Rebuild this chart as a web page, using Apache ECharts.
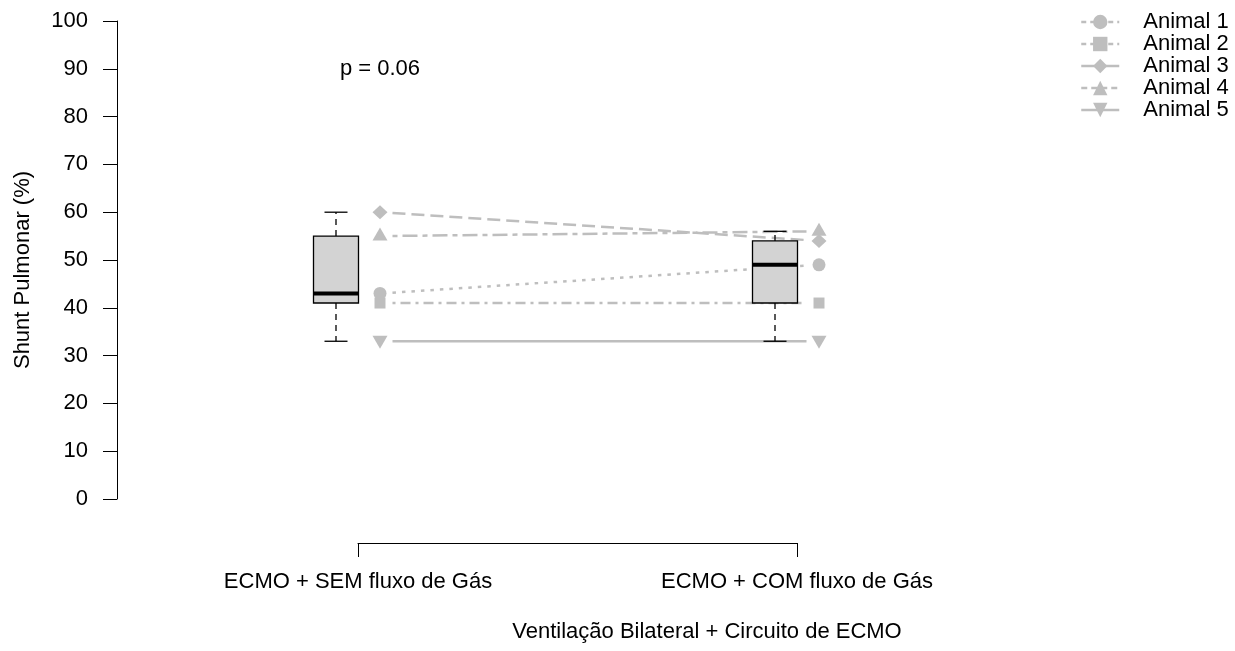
<!DOCTYPE html>
<html>
<head>
<meta charset="utf-8">
<script src="https://cdn.jsdelivr.net/npm/echarts@6/dist/echarts.min.js"></script>
<style>
  html, body { margin: 0; padding: 0; background: #ffffff; }
  #chart { width: 1235px; height: 651px; }
</style>
</head>
<body>
<div id="chart"></div>
<script>
// ---- data ----
const conditions = ['ECMO + SEM fluxo de Gás', 'ECMO + COM fluxo de Gás'];
const animals = ['Animal 1', 'Animal 2', 'Animal 3', 'Animal 4', 'Animal 5'];
const semFluxo = [43, 41, 60, 55, 33];   // shunt (%) without gas flow
const comFluxo = [49, 41, 54, 56, 33];   // shunt (%) with gas flow
const yTicks = [0, 10, 20, 30, 40, 50, 60, 70, 80, 90, 100];
const pValueText = 'p = 0.06';
const pValueY = 90;
const yTitle = 'Shunt Pulmonar (%)';
const xTitle = 'Ventilação Bilateral + Circuito de ECMO';

// ---- styling / layout ----
const FONT = 'Liberation Sans, Arial, Helvetica, sans-serif';
const GREY = '#bebebe';
const BOX_FILL = '#d3d3d3';
const AX_LEFT = 117, TOP = 21, PLOT_H = 478, GRID_W = 900;
const UNIT = 439;          // px between the two conditions
const CAT1_PX = 358;       // pixel x of the first condition
const SHIFT = 22;          // boxes sit left of a condition, points right of it
const xMin = 1 - (CAT1_PX - AX_LEFT) / UNIT;
const xMax = xMin + GRID_W / UNIT;

const symbols = ['circle', 'rect', 'diamond', 'triangle', 'path://M0,0 L10,0 L5,9 Z'];
const symbolSizes = [13, 11, [15, 14], [15, 13], [15, 13]];
const symbolOffsets = [[0, 0], [0, 0], [0, 0], [0, -2], [0, 1]];
const dashes = [[3.5, 6], [3, 5, 10, 5], [13, 6], [5, 5, 15, 5], null];
const legendDashes = [[5, 4], [5, 4], null, [6, 4], null];

// Tukey five-number summary (as used by boxplot)
function fivenum(v) {
  const x = v.slice().sort((a, b) => a - b);
  const n = x.length;
  const n4 = Math.floor((n + 3) / 2) / 2;
  const d = [1, n4, (n + 1) / 2, n + 1 - n4, n];
  return d.map(i => 0.5 * (x[Math.floor(i) - 1] + x[Math.ceil(i) - 1]));
}

const boxData = [[1].concat(fivenum(semFluxo)), [2].concat(fivenum(comFluxo))];
const segData = animals.map((a, i) => [1, semFluxo[i], 2, comFluxo[i], i]);

const hiddenX = gi => ({ gridIndex: gi, type: 'value', min: xMin, max: xMax, show: false });
const hiddenY = gi => ({ gridIndex: gi, type: 'value', min: 0, max: 100, show: false });

const chart = echarts.init(document.getElementById('chart'), null, { renderer: 'canvas' });

const option = {
  animation: false,
  backgroundColor: '#ffffff',
  textStyle: { fontFamily: FONT },
  grid: [
    { left: AX_LEFT, top: TOP, width: GRID_W, height: PLOT_H },
    { left: AX_LEFT + SHIFT, top: TOP, width: GRID_W, height: PLOT_H },
    { left: AX_LEFT - SHIFT, top: TOP, width: GRID_W, height: PLOT_H },
    { left: CAT1_PX, top: TOP, width: UNIT, height: PLOT_H }
  ],
  xAxis: [
    hiddenX(0), hiddenX(1), hiddenX(2),
    {
      gridIndex: 3, type: 'value', min: 1, max: 2, interval: 1,
      position: 'bottom', offset: 44,
      axisLine: { show: true, onZero: false, lineStyle: { color: '#000', width: 1 } },
      axisTick: { show: true, length: 14, lineStyle: { color: '#000', width: 1 } },
      axisLabel: {
        margin: 28, fontSize: 22, color: '#000', fontFamily: FONT,
        formatter: v => conditions[Math.round(v) - 1] || ''
      },
      splitLine: { show: false }
    }
  ],
  yAxis: [
    {
      gridIndex: 0, type: 'value', min: yTicks[0], max: yTicks[yTicks.length - 1],
      interval: yTicks[1] - yTicks[0],
      axisLine: { show: true, onZero: false, lineStyle: { color: '#000', width: 1 } },
      axisTick: { show: true, length: 14, lineStyle: { color: '#000', width: 1 } },
      axisLabel: { margin: 29, fontSize: 22, color: '#000', fontFamily: FONT },
      splitLine: { show: false }
    },
    hiddenY(1), hiddenY(2), hiddenY(3)
  ],
  legend: {
    orient: 'vertical',
    left: 1080, top: 11,
    padding: 0,
    itemGap: 0,
    itemWidth: 38,
    itemHeight: 18,
    selectedMode: false,
    textStyle: { fontSize: 22, lineHeight: 22, color: '#000', fontFamily: FONT, padding: [0, 0, 0, 19] },
    data: animals.map((name, i) => ({
      name,
      lineStyle: { color: GREY, width: 2.5, opacity: 1, type: legendDashes[i] || 'solid' }
    }))
  },
  graphic: [
    {
      type: 'text', x: 23, y: 270, rotation: Math.PI / 2,
      style: { text: yTitle, fontSize: 22, fontFamily: FONT, fill: '#000', align: 'center', verticalAlign: 'middle' }
    },
    {
      type: 'text', x: 707, y: 632,
      style: { text: xTitle, fontSize: 22, fontFamily: FONT, fill: '#000', align: 'center', verticalAlign: 'middle' }
    }
  ],
  series: [
    // connecting segments per animal, stopping short of the markers
    {
      type: 'custom', name: 'segments',
      xAxisIndex: 1, yAxisIndex: 1, z: 2, silent: true,
      encode: { x: [0, 2], y: [1, 3] },
      data: segData,
      renderItem: function (params, api) {
        const p1 = api.coord([api.value(0), api.value(1)]);
        const p2 = api.coord([api.value(2), api.value(3)]);
        const i = api.value(4);
        const dx = p2[0] - p1[0], dy = p2[1] - p1[1];
        const len = Math.sqrt(dx * dx + dy * dy);
        const ux = dx / len, uy = dy / len, gap = 12.5;
        return {
          type: 'line',
          shape: { x1: p1[0] + ux * gap, y1: p1[1] + uy * gap, x2: p2[0] - ux * gap, y2: p2[1] - uy * gap },
          style: { stroke: GREY, lineWidth: 2.5, lineDash: dashes[i] || null, fill: null }
        };
      }
    },
    // box-and-whisker per condition
    {
      type: 'custom', name: 'boxes',
      xAxisIndex: 2, yAxisIndex: 2, z: 3, silent: true,
      encode: { x: 0, y: [1, 2, 3, 4, 5] },
      data: boxData,
      renderItem: function (params, api) {
        const x = api.value(0);
        const pMin = api.coord([x, api.value(1)]);
        const pQ1 = api.coord([x, api.value(2)]);
        const pMed = api.coord([x, api.value(3)]);
        const pQ3 = api.coord([x, api.value(4)]);
        const pMax = api.coord([x, api.value(5)]);
        const cx = pMed[0], hw = 22.5, cap = 11.5;
        const whisk = { stroke: '#000', lineWidth: 1.3, lineDash: [6, 5], fill: null };
        const solid = { stroke: '#000', lineWidth: 1.3, fill: null };
        return {
          type: 'group',
          children: [
            { type: 'line', shape: { x1: cx, y1: pQ1[1], x2: cx, y2: pMin[1] }, style: whisk },
            { type: 'line', shape: { x1: cx, y1: pQ3[1], x2: cx, y2: pMax[1] }, style: whisk },
            { type: 'line', shape: { x1: cx - cap, y1: pMin[1], x2: cx + cap, y2: pMin[1] }, style: solid },
            { type: 'line', shape: { x1: cx - cap, y1: pMax[1], x2: cx + cap, y2: pMax[1] }, style: solid },
            {
              type: 'rect',
              shape: { x: cx - hw, y: pQ3[1], width: hw * 2, height: pQ1[1] - pQ3[1] },
              style: { fill: BOX_FILL, stroke: '#000', lineWidth: 1.3 }
            },
            { type: 'line', shape: { x1: cx - hw, y1: pMed[1], x2: cx + hw, y2: pMed[1] }, style: { stroke: '#000', lineWidth: 4 } }
          ]
        };
      }
    },
    // markers per animal
    ...animals.map((name, i) => ({
      type: 'line', name,
      xAxisIndex: 1, yAxisIndex: 1, z: 4, silent: true,
      data: [[1, semFluxo[i]], [2, comFluxo[i]]],
      symbol: symbols[i],
      symbolSize: symbolSizes[i],
      symbolOffset: symbolOffsets[i],
      showSymbol: true,
      itemStyle: { color: GREY, borderWidth: 0 },
      lineStyle: { color: GREY, opacity: 0, width: 2.5 },
      emphasis: { disabled: true }
    }))
  ]
};

chart.setOption(option);

// p-value annotation placed above the first condition's markers
const pPos = chart.convertToPixel({ xAxisIndex: 1, yAxisIndex: 1 }, [1, pValueY]);
chart.setOption({
  graphic: option.graphic.concat([{
    type: 'text', x: pPos[0], y: pPos[1],
    style: { text: pValueText, fontSize: 22, fontFamily: FONT, fill: '#000', align: 'center', verticalAlign: 'middle' }
  }])
});
</script>
</body>
</html>
